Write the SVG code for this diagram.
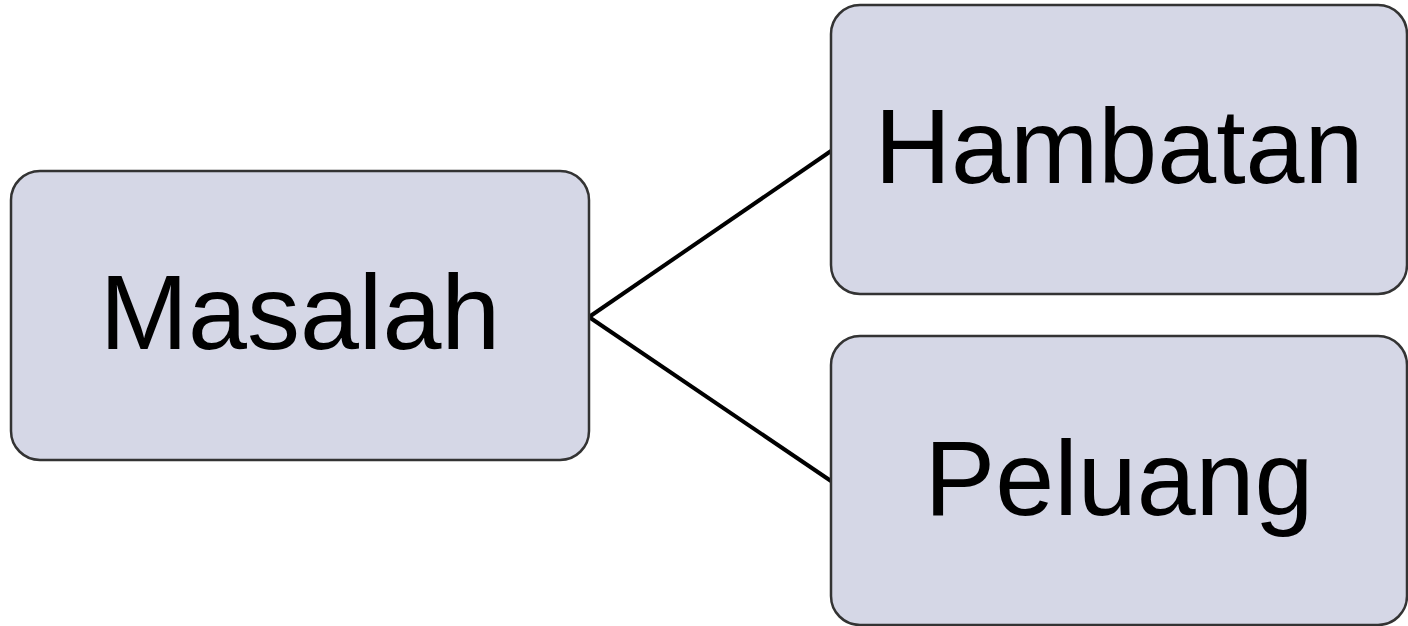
<svg xmlns="http://www.w3.org/2000/svg" width="1408" height="626" viewBox="0 0 1408 626">
<style>
.box{fill:#d5d7e6;stroke:#333;stroke-width:2.5}
.lbl{font-family:"Liberation Sans",Arial,sans-serif;font-size:106px;fill:#000;text-anchor:middle}
.conn{stroke:#000;stroke-width:4;fill:none}
</style>
<rect width="1408" height="626" fill="#fff"/>
<g id="connectors">
<line class="conn" x1="589" y1="317" x2="831" y2="151"/>
<line class="conn" x1="589" y1="317" x2="831" y2="481"/>
</g>
<g id="masalah">
<rect class="box" x="11" y="171" width="578" height="289" rx="29"/>
<text class="lbl" x="300" y="349">Masalah</text>
</g>
<g id="hambatan">
<rect class="box" x="831" y="5" width="576" height="289" rx="29"/>
<text class="lbl" x="1119" y="183">Hambatan</text>
</g>
<g id="peluang">
<rect class="box" x="831" y="336" width="576" height="289" rx="29"/>
<text class="lbl" x="1119" y="515">Peluang</text>
</g>
</svg>
